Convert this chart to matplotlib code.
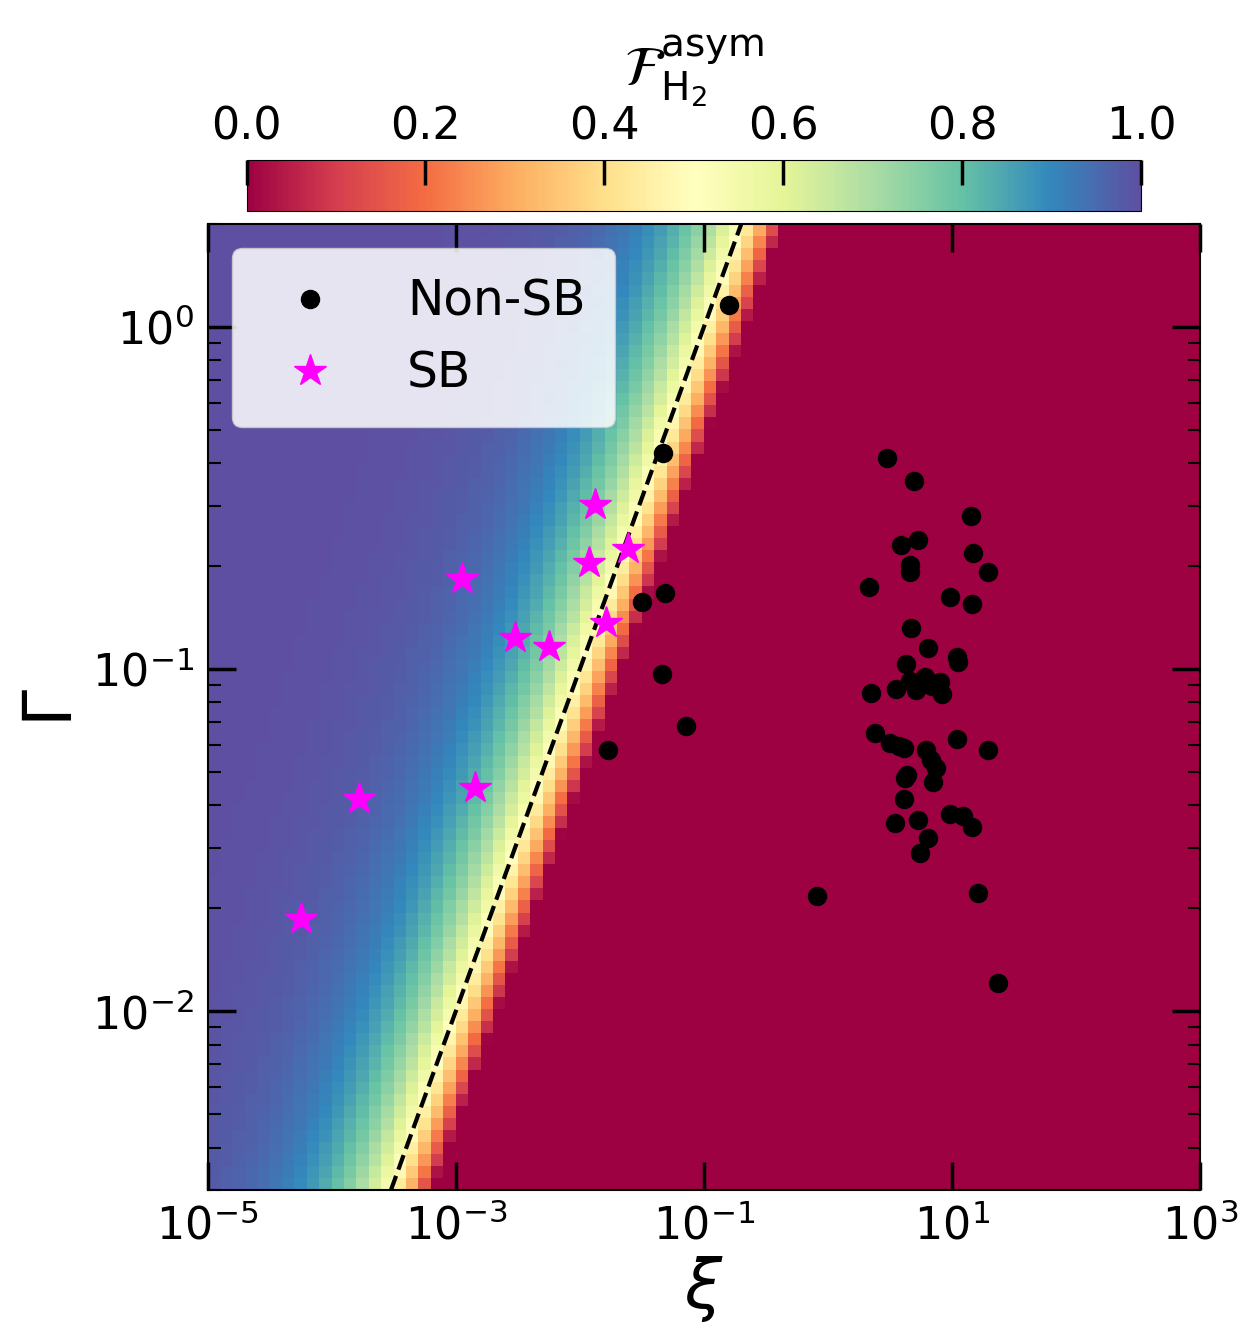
import numpy as np
import matplotlib
matplotlib.use('Agg')
import matplotlib.pyplot as plt

# log10 positions
nonsb_logx = [-0.80, -1.33, -1.50, -1.31, -1.34, -1.145, -1.77, -0.09, 1.37,
              0.48, 0.69, 0.33, 0.59, 0.66, 0.73, 0.66, 1.15, 1.17, 1.29, 0.98, 1.16,
              0.67, 0.81, 0.63, 1.04, 1.05, 0.35, 0.55, 0.66, 0.78, 0.90, 0.84, 0.71,
              0.92, 0.38, 0.50, 0.57, 0.61, 0.79, 0.83, 0.87, 1.29, 1.04, 0.64, 0.62,
              0.85, 0.61, 0.54, 0.73, 0.98, 1.09, 1.16, 0.81, 0.74, 1.21]
nonsb_logy = [0.064, -0.368, -0.804, -0.778, -1.015, -1.167, -1.237, -1.664, -1.918,
              -0.383, -0.450, -0.760, -0.637, -0.696, -0.623, -0.716, -0.553, -0.661,
              -0.716, -0.789, -0.810, -0.880, -0.938, -0.985, -0.965, -0.980, -1.070,
              -1.059, -1.035, -1.023, -1.038, -1.050, -1.061, -1.073, -1.187, -1.216,
              -1.225, -1.231, -1.237, -1.266, -1.289, -1.237, -1.205, -1.310, -1.319,
              -1.330, -1.380, -1.448, -1.441, -1.424, -1.430, -1.462, -1.494, -1.538,
              -1.655]
sb_logx = [-1.879, -1.613, -1.927, -2.952, -1.790, -2.524, -2.250, -2.847, -3.782, -4.250]
sb_logy = [-0.520, -0.649, -0.690, -0.737, -0.865, -0.909, -0.936, -1.348, -1.380, -1.731]

# model field on an 80x80 grid
xi_edges = np.logspace(-5, 3, 81)
gam_edges = np.logspace(np.log10(3e-3), np.log10(2.0), 81)
xc = np.sqrt(xi_edges[:-1] * xi_edges[1:])
yc = np.sqrt(gam_edges[:-1] * gam_edges[1:])
X, Y = np.meshgrid(xc, yc)
r = 10 * X / Y
F = np.clip(1 - 0.5 * r ** 0.9, 0, 1)

fig = plt.figure(figsize=(12.58, 13.42), dpi=100)
ax = fig.add_axes([0.165, 0.113, 0.789, 0.720])
mesh = ax.pcolormesh(xi_edges, gam_edges, F, cmap='Spectral', vmin=0, vmax=1)
gl = np.array([3e-3, 2.0])
ax.plot(gl / 10, gl, 'k--', lw=3)

ax.plot(10 ** np.array(nonsb_logx), 10 ** np.array(nonsb_logy), 'o', color='k',
        ms=13, ls='none', label='Non-SB')
ax.plot(10 ** np.array(sb_logx), 10 ** np.array(sb_logy), '*', color='magenta',
        ms=24, ls='none', label='SB')

ax.set_xscale('log')
ax.set_yscale('log')
ax.set_xlim(1e-5, 1e3)
ax.set_ylim(3e-3, 2.0)
ax.set_xticks([1e-5, 1e-3, 1e-1, 1e1, 1e3])
ax.set_xlabel(r'$\xi$', fontsize=48)
ax.set_ylabel(r'$\Gamma$', fontsize=48)
ax.tick_params(which='both', direction='in', top=True, right=True, labelsize=32)
ax.tick_params(which='major', length=20, width=2.5, pad=10)
ax.tick_params(which='minor', length=9, width=1.5)
for s in ax.spines.values():
    s.set_linewidth(1.5)
leg = ax.legend(loc='upper left', fontsize=35, markerscale=1.0, borderpad=0.6,
                handletextpad=1.0, framealpha=0.85)

cax = fig.add_axes([0.196, 0.843, 0.711, 0.038])
cb = fig.colorbar(mesh, cax=cax, orientation='horizontal')
cb.set_ticks([0, 0.2, 0.4, 0.6, 0.8, 1.0])
cax.xaxis.set_ticks_position('top')
cax.xaxis.set_label_position('top')
cax.tick_params(direction='in', length=18, width=2.5, labelsize=32, top=True, bottom=False, pad=8)
cb.set_label(r'$\mathcal{F}_{\rm H_2}^{\rm asym}$', fontsize=40, labelpad=14)

fig.savefig('out.png', dpi=100)
